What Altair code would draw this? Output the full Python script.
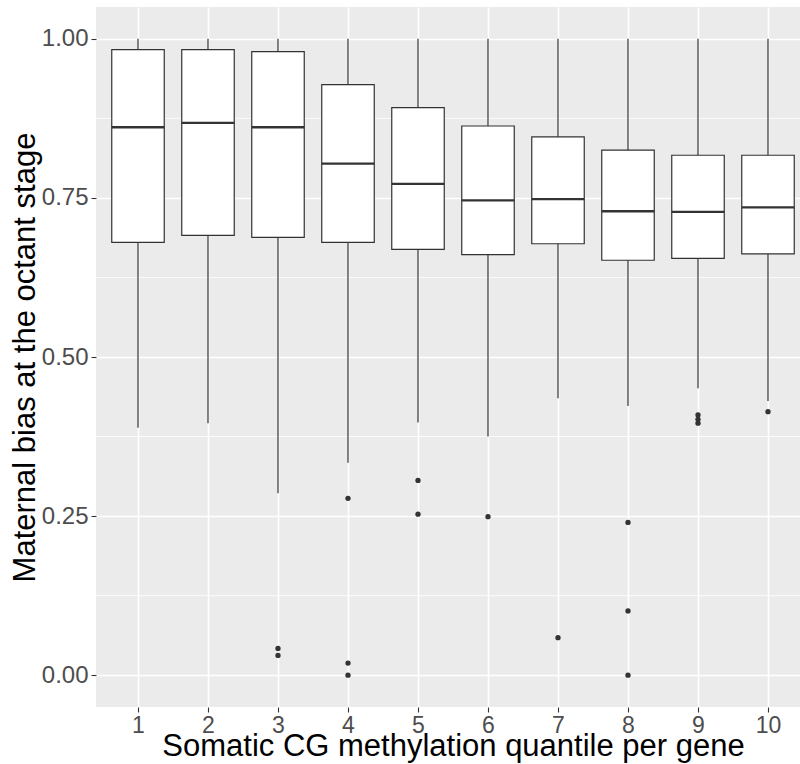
import altair as alt
import pandas as pd

# ---- data ----
quantile = [1, 2, 3, 4, 5, 6, 7, 8, 9, 10]
upper_whisker = [1.00, 1.00, 1.00, 1.00, 1.00, 1.00, 1.00, 1.00, 1.00, 1.00]
q3 = [0.983, 0.983, 0.980, 0.928, 0.892, 0.863, 0.846, 0.825, 0.817, 0.817]
median = [0.861, 0.868, 0.861, 0.804, 0.772, 0.746, 0.748, 0.729, 0.728, 0.735]
q1 = [0.680, 0.691, 0.688, 0.680, 0.669, 0.661, 0.678, 0.652, 0.655, 0.662]
lower_whisker = [0.389, 0.396, 0.286, 0.334, 0.397, 0.375, 0.435, 0.423, 0.451, 0.431]

outlier_quantile = [3, 3, 4, 4, 4, 5, 5, 6, 7, 8, 8, 8, 9, 9, 9, 10]
outlier_value = [0.042, 0.031, 0.278, 0.019, 0.000, 0.306, 0.253, 0.249, 0.059,
                 0.240, 0.101, 0.000, 0.409, 0.402, 0.396, 0.414]

y_ticks = [0.00, 0.25, 0.50, 0.75, 1.00]
y_minor = [0.125, 0.375, 0.625, 0.875]

x_title = "Somatic CG methylation quantile per gene"
y_title = "Maternal bias at the octant stage"

boxes = pd.DataFrame({
    "quantile": quantile, "upper": upper_whisker, "q3": q3,
    "median": median, "q1": q1, "lower": lower_whisker,
})
outliers = pd.DataFrame({"quantile": outlier_quantile, "value": outlier_value})
minor = pd.DataFrame({"v": y_minor})

FONT = "Liberation Sans"
x_scale = alt.Scale(domain=[0.4, 0.4 + 704 / 70], nice=False, zero=False)
y_scale = alt.Scale(domain=[-0.05, 1.05], nice=False, zero=False)

x_axis = alt.Axis(values=quantile, format="d", title=x_title,
                  titleX=357, titleY=48, titleAnchor="start", titleAlign="center",
                  titleBaseline="alphabetic")
y_axis = alt.Axis(values=y_ticks, format=".2f", title=y_title,
                  titleX=-71, titleY=350, titleAngle=270, titleAlign="center",
                  titleBaseline="middle")


def X(field, **kw):
    return alt.X(field, type="quantitative", scale=x_scale, axis=x_axis, title=x_title, **kw)


def Y(field, **kw):
    return alt.Y(field, type="quantitative", scale=y_scale, axis=y_axis, title=y_title, **kw)


base = alt.Chart(boxes).transform_calculate(
    lo="datum.quantile - 0.375", hi="datum.quantile + 0.375"
)

minor_grid = alt.Chart(minor).mark_rule(color="white", strokeWidth=0.8).encode(
    y=Y("v")
)

whiskers = base.mark_rule(color="#333333", strokeWidth=1.2).encode(
    x=X("quantile"), y=Y("lower"), y2="upper"
)

box = base.mark_bar(fill="white", stroke="#333333", strokeWidth=1.2).encode(
    x=X("lo"), x2="hi", y=Y("q1"), y2="q3"
)

med = base.mark_rule(color="#333333", strokeWidth=2.3).encode(
    x=X("lo"), x2="hi", y=Y("median")
)

pts = alt.Chart(outliers).mark_circle(size=28, color="#333333", opacity=1).encode(
    x=X("quantile"), y=Y("value")
)

chart = alt.layer(minor_grid, whiskers, box, med, pts).properties(
    width=704, height=700,
    autosize=alt.AutoSizeParams(type="none"),
    padding={"left": 96, "top": 7, "right": 0, "bottom": 57},
    background="white",
).configure_view(
    fill="#EBEBEB", stroke=None
).configure_axis(
    domain=False,
    grid=True, gridColor="white", gridWidth=1.6,
    tickColor="#333333", tickSize=5, tickWidth=1.1,
    labelFont=FONT, labelFontSize=23, labelColor="#4D4D4D",
    titleFont=FONT, titleFontSize=31, titleColor="black", titleFontWeight="normal",
).configure_axisX(
    labelPadding=2, labelBaseline="top"
).configure_axisY(
    labelPadding=3, labelFontSize=24
)

chart.save("out.html", embed_options={"renderer": "svg", "actions": False})
